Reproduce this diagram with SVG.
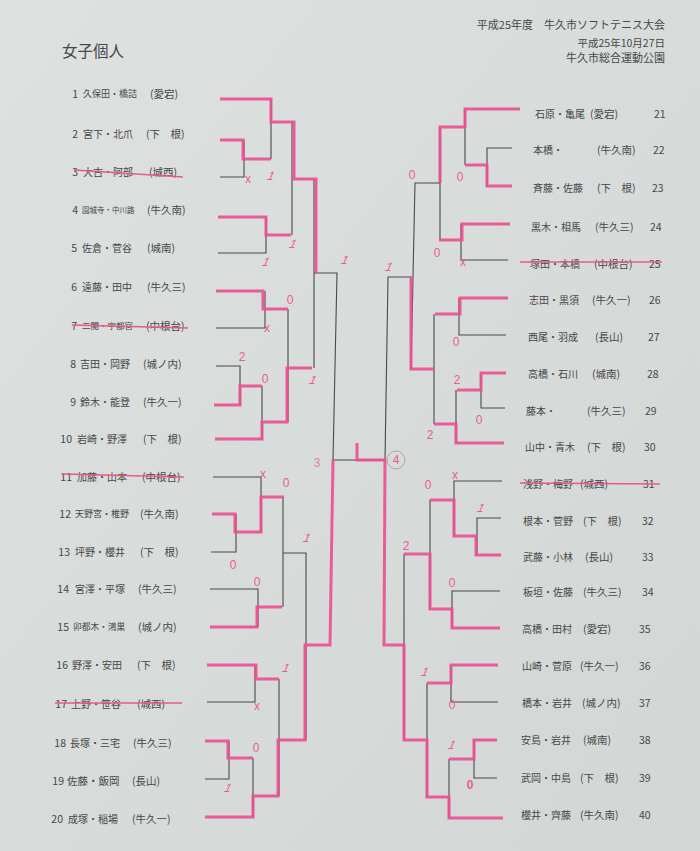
<svg xmlns="http://www.w3.org/2000/svg" width="700" height="851" viewBox="0 0 700 851">
<style>
.t{font-family:"Noto Sans CJK JP",sans-serif;fill:#474747;dominant-baseline:central}
.n{font-size:10.5px}
.s{font-size:10.5px}
.r{text-anchor:end}
.bk{fill:none;stroke:#4a4a4a;stroke-width:1.1}
.pk{fill:none;stroke:#ec4d92;stroke-width:3;stroke-linejoin:miter;opacity:0.9}
.st{stroke:#e8588f;stroke-width:1.3}
.sc{font-family:"Liberation Sans",sans-serif;font-size:12px;fill:#ec5a98;text-anchor:middle;dominant-baseline:central}
</style>
<defs>
<linearGradient id="bg" x1="0" y1="0" x2="1" y2="1">
<stop offset="0" stop-color="#dde1e0"/>
<stop offset="1" stop-color="#d2d6d5"/>
</linearGradient>
</defs>
<rect width="700" height="851" fill="url(#bg)"/>
<g id="title">
<text class="t" x="62" y="50" font-size="15.5">女子個人</text>
</g>
<g id="header" class="t r">
<text class="t r" x="665" y="24" font-size="11">平成25年度　牛久市ソフトテニス大会</text>
<text class="t r" x="665" y="42" font-size="10.5">平成25年10月27日</text>
<text class="t r" x="665" y="57" font-size="11">牛久市総合運動公園</text>
</g>
<g id="connectors">
<path class="bk" d="M220,177H244V140M218,253H266V217M271,99V159M292,122V235M216,328H265V291M216,366H240V405M262,386V439M288,309V422M314,179V368M314,273H337L333,460M213,477H261V532M211,552H236V514M210,589H258V627M283,497V607M283,553H306V740M207,702H255V665M205,779H229V741M253,758V817M279,679V796M333,460H385"/>
<path class="bk" d="M512,148H487V186M465,109V165M508,260H461V224M440,127V240M440,183H415L411,370M412,277H388L385,460M506,335H459V298M505,408H481V373M456,390V443M434,314V424M502,481H454V536M501,518H477V555M430,500V609M500,591H452V628M404,554V740M498,702H451V665M497,778H474V740M449,759V818M427,683V797"/>
<path class="pk" d="M220,99H271V122H294V179H316V273"/>
<path class="pk" d="M220,140H243V159H271"/>
<path class="pk" d="M218,217H266V235H291"/>
<path class="pk" d="M216,291H263V309H288"/>
<path class="pk" d="M214,405H240V386H262"/>
<path class="pk" d="M215,439H262V422H287V368H312"/>
<path class="pk" d="M212,514H235V532H261V497H284"/>
<path class="pk" d="M210,627H257V607H282"/>
<path class="pk" d="M207,665H256V679H279"/>
<path class="pk" d="M205,741H228V758H253"/>
<path class="pk" d="M205,817H253V796H278V740H305V645H330L333,460"/>
<path class="pk" d="M520,109H465V127H440V183"/>
<path class="pk" d="M512,186H487V165H465"/>
<path class="pk" d="M510,224H462V240H439"/>
<path class="pk" d="M508,298H460V314H435"/>
<path class="pk" d="M506,373H481V390H457"/>
<path class="pk" d="M504,443H456V424H434"/>
<path class="pk" d="M434,369H411V277"/>
<path class="pk" d="M501,555H476V536H454V500H430"/>
<path class="pk" d="M500,628H452V609H430V554H404"/>
<path class="pk" d="M498,665H451V683H427"/>
<path class="pk" d="M497,740H474V759H449"/>
<path class="pk" d="M503,818H449V797H427V740H404V645H384L385,460H357V443"/>
</g>
<g id="e1"><text class="t n r" x="78" y="93">1</text><text class="t" x="83" y="93" font-size="9">久保田・橋詰</text><text class="t s" x="150" y="93">(愛宕)</text></g>
<g id="e2"><text class="t n r" x="78" y="133">2</text><text class="t" x="83" y="133" font-size="10">宮下・北爪</text><text class="t s" x="146" y="133">(下　根)</text></g>
<g id="e3"><text class="t n r" x="78" y="171">3</text><text class="t" x="83" y="171" font-size="10">大古・阿部</text><text class="t s" x="149" y="171">(城西)</text><line class="st" x1="74" y1="170" x2="183" y2="177"/></g>
<g id="e4"><text class="t n r" x="78" y="209">4</text><text class="t" x="82" y="209" font-size="7.5">園城寺・中川路</text><text class="t s" x="147" y="209">(牛久南)</text></g>
<g id="e5"><text class="t n r" x="77" y="247">5</text><text class="t" x="82" y="247" font-size="10">佐倉・菅谷</text><text class="t s" x="147" y="247">(城南)</text></g>
<g id="e6"><text class="t n r" x="77" y="286">6</text><text class="t" x="82" y="286" font-size="10">遠藤・田中</text><text class="t s" x="147" y="286">(牛久三)</text></g>
<g id="e7"><text class="t n r" x="77" y="325">7</text><text class="t" x="82" y="325" font-size="8.5">二関・宇都宮</text><text class="t s" x="146" y="325">(中根台)</text><line class="st" x1="72" y1="325" x2="188" y2="328"/></g>
<g id="e8"><text class="t n r" x="76" y="363">8</text><text class="t" x="80" y="363" font-size="10">吉田・岡野</text><text class="t s" x="143" y="363">(城ノ内)</text></g>
<g id="e9"><text class="t n r" x="76" y="401">9</text><text class="t" x="80" y="401" font-size="10">鈴木・能登</text><text class="t s" x="143" y="401">(牛久一)</text></g>
<g id="e10"><text class="t n r" x="72" y="438">10</text><text class="t" x="77" y="438" font-size="10">岩崎・野澤</text><text class="t s" x="143" y="438">(下　根)</text></g>
<g id="e11"><text class="t n r" x="72" y="476">11</text><text class="t" x="77" y="476" font-size="10">加藤・山本</text><text class="t s" x="142" y="476">(中根台)</text><line class="st" x1="62" y1="474" x2="184" y2="477"/></g>
<g id="e12"><text class="t n r" x="71" y="513">12</text><text class="t" x="75" y="513" font-size="9">天野宮・椎野</text><text class="t s" x="140" y="513">(牛久南)</text></g>
<g id="e13"><text class="t n r" x="70" y="551">13</text><text class="t" x="75" y="551" font-size="10">坪野・櫻井</text><text class="t s" x="140" y="551">(下　根)</text></g>
<g id="e14"><text class="t n r" x="69" y="588">14</text><text class="t" x="75" y="588" font-size="10">宮澤・平塚</text><text class="t s" x="138" y="588">(牛久三)</text></g>
<g id="e15"><text class="t n r" x="69" y="626">15</text><text class="t" x="73" y="626" font-size="8.7">卯都木・鴻巣</text><text class="t s" x="138" y="626">(城ノ内)</text></g>
<g id="e16"><text class="t n r" x="68" y="664">16</text><text class="t" x="72" y="664" font-size="10">野澤・安田</text><text class="t s" x="137" y="664">(下　根)</text></g>
<g id="e17"><text class="t n r" x="67" y="703">17</text><text class="t" x="71" y="703" font-size="10">上野・笹谷</text><text class="t s" x="137" y="703">(城西)</text><line class="st" x1="55" y1="703" x2="182" y2="703"/></g>
<g id="e18"><text class="t n r" x="66" y="742">18</text><text class="t" x="70" y="742" font-size="10">長塚・三宅</text><text class="t s" x="133" y="742">(牛久三)</text></g>
<g id="e19"><text class="t n r" x="64" y="780">19</text><text class="t" x="67" y="780" font-size="10.5">佐藤・飯岡</text><text class="t s" x="132" y="780">(長山)</text></g>
<g id="e20"><text class="t n r" x="63" y="818">20</text><text class="t" x="68" y="818" font-size="10">成塚・稲場</text><text class="t s" x="132" y="818">(牛久一)</text></g>
<g id="e21"><text class="t" x="535" y="113" font-size="10">石原・亀尾</text><text class="t s" x="590" y="113">(愛宕)</text><text class="t n" x="654" y="113">21</text></g>
<g id="e22"><text class="t" x="533" y="149" font-size="10">本橋・</text><text class="t s" x="597" y="149">(牛久南)</text><text class="t n" x="653" y="149">22</text></g>
<g id="e23"><text class="t" x="533" y="187" font-size="10">斉藤・佐藤</text><text class="t s" x="597" y="187">(下　根)</text><text class="t n" x="652" y="187">23</text></g>
<g id="e24"><text class="t" x="531" y="226" font-size="10">黒木・相馬</text><text class="t s" x="595" y="226">(牛久三)</text><text class="t n" x="650" y="226">24</text></g>
<g id="e25"><text class="t" x="530" y="263" font-size="10">塚田・本橋</text><text class="t s" x="594" y="263">(中根台)</text><text class="t n" x="649" y="263">25</text><line class="st" x1="520" y1="262" x2="662" y2="262"/></g>
<g id="e26"><text class="t" x="529" y="299" font-size="10">志田・黒須</text><text class="t s" x="592" y="299">(牛久一)</text><text class="t n" x="649" y="299">26</text></g>
<g id="e27"><text class="t" x="528" y="336" font-size="10">西尾・羽成</text><text class="t s" x="595" y="336">(長山)</text><text class="t n" x="648" y="336">27</text></g>
<g id="e28"><text class="t" x="528" y="373" font-size="10">高橋・石川</text><text class="t s" x="592" y="373">(城南)</text><text class="t n" x="647" y="373">28</text></g>
<g id="e29"><text class="t" x="526" y="410" font-size="10">藤本・</text><text class="t s" x="587" y="410">(牛久三)</text><text class="t n" x="645" y="410">29</text></g>
<g id="e30"><text class="t" x="525" y="446" font-size="10">山中・青木</text><text class="t s" x="587" y="446">(下　根)</text><text class="t n" x="644" y="446">30</text></g>
<g id="e31"><text class="t" x="523" y="483" font-size="10">浅野・梅野</text><text class="t s" x="580" y="483">(城西)</text><text class="t n" x="643" y="483">31</text><line class="st" x1="520" y1="483" x2="660" y2="484"/></g>
<g id="e32"><text class="t" x="523" y="520" font-size="10">根本・菅野</text><text class="t s" x="583" y="520">(下　根)</text><text class="t n" x="642" y="520">32</text></g>
<g id="e33"><text class="t" x="523" y="556" font-size="10">武藤・小林</text><text class="t s" x="585" y="556">(長山)</text><text class="t n" x="642" y="556">33</text></g>
<g id="e34"><text class="t" x="523" y="591" font-size="10">板垣・佐藤</text><text class="t s" x="583" y="591">(牛久三)</text><text class="t n" x="642" y="591">34</text></g>
<g id="e35"><text class="t" x="522" y="628" font-size="10">高橋・田村</text><text class="t s" x="583" y="628">(愛宕)</text><text class="t n" x="639" y="628">35</text></g>
<g id="e36"><text class="t" x="522" y="665" font-size="10">山崎・菅原</text><text class="t s" x="580" y="665">(牛久一)</text><text class="t n" x="639" y="665">36</text></g>
<g id="e37"><text class="t" x="522" y="702" font-size="10">橋本・岩井</text><text class="t s" x="582" y="702">(城ノ内)</text><text class="t n" x="639" y="702">37</text></g>
<g id="e38"><text class="t" x="521" y="739" font-size="10">安島・岩井</text><text class="t s" x="583" y="739">(城南)</text><text class="t n" x="639" y="739">38</text></g>
<g id="e39"><text class="t" x="521" y="777" font-size="10">武岡・中島</text><text class="t s" x="580" y="777">(下　根)</text><text class="t n" x="639" y="777">39</text></g>
<g id="e40"><text class="t" x="521" y="814" font-size="10">櫻井・齊藤</text><text class="t s" x="580" y="814">(牛久南)</text><text class="t n" x="639" y="814">40</text></g>
<g id="scores">
<text class="sc" x="248" y="179">x</text>
<text class="sc" transform="translate(271,176) skewX(-25)">1</text>
<text class="sc" transform="translate(293,244) skewX(-25)">1</text>
<text class="sc" transform="translate(266,262) skewX(-25)">1</text>
<text class="sc" transform="translate(345,260) skewX(-25)">1</text>
<text class="sc" x="290" y="300">0</text>
<text class="sc" x="267" y="328">x</text>
<text class="sc" x="242" y="357">2</text>
<text class="sc" x="265" y="379">0</text>
<text class="sc" transform="translate(313,380) skewX(-25)">1</text>
<text class="sc" x="263" y="474">x</text>
<text class="sc" x="286" y="483">0</text>
<text class="sc" transform="translate(307,538) skewX(-25)">1</text>
<text class="sc" x="233" y="565">0</text>
<text class="sc" x="257" y="582">0</text>
<text class="sc" transform="translate(286,668) skewX(-25)">1</text>
<text class="sc" x="257" y="706">x</text>
<text class="sc" x="256" y="748">0</text>
<text class="sc" transform="translate(228,788) skewX(-25)">1</text>
<text class="sc" x="317" y="463" font-size="14" opacity="0.7">3</text>
<circle cx="396" cy="460" r="9" fill="none" stroke="#b8a2aa" stroke-width="1"/>
<text class="sc" x="396" y="460" font-size="12" fill="#b08a98">4</text>
<text class="sc" x="412" y="175">0</text>
<text class="sc" x="460" y="177">0</text>
<text class="sc" x="437" y="253">0</text>
<text class="sc" x="463" y="262">x</text>
<text class="sc" transform="translate(389,267) skewX(-25)">1</text>
<text class="sc" x="456" y="342">0</text>
<text class="sc" x="457" y="380">2</text>
<text class="sc" x="479" y="420">0</text>
<text class="sc" x="430" y="435">2</text>
<text class="sc" x="455" y="475">x</text>
<text class="sc" x="428" y="485">0</text>
<text class="sc" transform="translate(481,508) skewX(-25)">1</text>
<text class="sc" x="406" y="546">2</text>
<text class="sc" x="452" y="583">0</text>
<text class="sc" transform="translate(425,672) skewX(-25)">1</text>
<text class="sc" x="452" y="705">0</text>
<text class="sc" transform="translate(452,745) skewX(-25)">1</text>
<text class="sc" x="470" y="785" font-weight="bold">0</text>
</g>
</svg>
